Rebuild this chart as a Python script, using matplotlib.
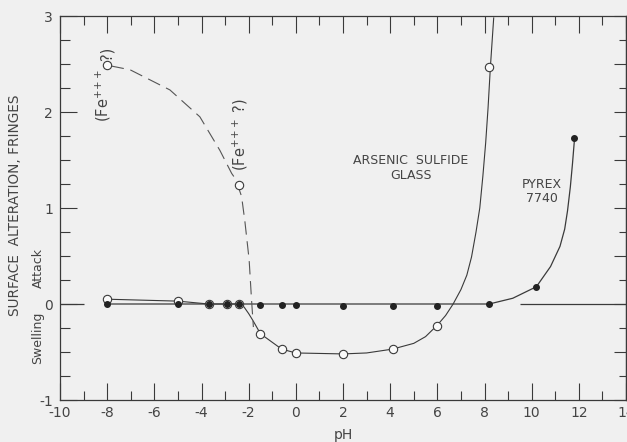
import numpy as np
import matplotlib
matplotlib.use("Agg")
import matplotlib.pyplot as plt
from matplotlib.ticker import MultipleLocator

plt.rcParams['axes.unicode_minus'] = False
plt.rcParams['font.family'] = ['DejaVu Sans']

# Pyrex 7740 (filled points) and its drawn curve
pyrex_ph = [-8, -5, -3.7, -2.9, -2.4, -1.5, -0.6, 0, 2, 4.1, 6, 8.2, 10.2, 11.8]
pyrex_fr = [0.0, 0.0, 0.0, 0.0, 0.0, -0.01, -0.01, -0.01, -0.02, -0.02, -0.02, 0.0, 0.18, 1.73]
pyrex_curve_ph = [-8, 8.2, 9.2, 10.2, 10.8, 11.2, 11.4, 11.52, 11.64, 11.73, 11.82]
pyrex_curve_fr = [0.0, 0.0, 0.06, 0.18, 0.39, 0.60, 0.78, 0.97, 1.22, 1.46, 1.73]

# Arsenic sulfide glass (open points) and its drawn curve
as_ph = [-8, -5, -3.7, -2.9, -2.4, -1.5, -0.6, 0, 2, 4.1, 6, 8.2]
as_fr = [0.05, 0.03, 0.0, 0.0, 0.0, -0.31, -0.47, -0.51, -0.52, -0.47, -0.23, 2.47]
as_curve_ph = [-8, -5, -3.7, -2.9, -2.4, -2.2, -2.0, -1.8, -1.5, -0.6, 0, 2, 3, 4.1,
               5.0, 5.5, 6.0, 6.35, 6.67, 7.0, 7.25, 7.45, 7.64, 7.8, 7.93, 8.05, 8.15,
               8.25, 8.39]
as_curve_fr = [0.05, 0.03, 0.0, 0.0, 0.0, -0.03, -0.1, -0.18, -0.31, -0.47, -0.51, -0.52,
               -0.51, -0.47, -0.41, -0.34, -0.22, -0.12, 0.0, 0.15, 0.30, 0.49, 0.75,
               1.0, 1.33, 1.68, 2.04, 2.47, 2.98]

# Fe+++ points (dashed curve)
fe_ph = [-8, -2.4]
fe_fr = [2.49, 1.24]
fe_curve_ph = [-7.85, -7.03, -5.34, -4.07, -3.22, -2.72, -2.55, -2.3, -2.16, -1.98, -1.88, -1.80]
fe_curve_fr = [2.48, 2.44, 2.23, 1.95, 1.60, 1.36, 1.30, 1.12, 0.86, 0.46, 0.05, -0.24]

# short zero reference segments at the frame edges
zero_segments = [(-10, -9.0), (9.5, 14)]

xticks = list(range(-10, 15, 2))
xtick_labels = ['-10', '-8', '-6', '-4', '-2', '0', '2', '4', '6', '8', '10', '12', '14']
yticks = [-1, 0, 1, 2, 3]
ytick_labels = ['-1', '0', '1', '2', '3']

ink = '#3a3a3a'
grey_text = '#444444'
bg = '#f0f0f0'

fig = plt.figure(figsize=(6.27, 4.42), dpi=100, facecolor=bg)
ax = fig.add_axes([60 / 627, 42 / 442, 566 / 627, 384 / 442], facecolor=bg)

ax.set_xlim(-10, 14)
ax.set_ylim(-1, 3)

for a, b in zero_segments:
    ax.hlines(0, a, b, color=ink, lw=0.9)

ax.plot(pyrex_curve_ph, pyrex_curve_fr, color=ink, lw=0.9, zorder=2)
ax.plot(as_curve_ph, as_curve_fr, color=ink, lw=0.8, zorder=2)
ax.plot(fe_curve_ph, fe_curve_fr, color='#555555', lw=0.8, linestyle=(0, (12, 6)), zorder=2)

ax.plot(as_ph, as_fr, 'o', ms=6, mfc='#fafafa', mec=ink, mew=0.8, zorder=3)
ax.plot(fe_ph, fe_fr, 'o', ms=6, mfc='#fafafa', mec=ink, mew=0.8, zorder=3)
ax.plot(pyrex_ph, pyrex_fr, 'o', ms=4, mfc='#222222', mec='#222222', zorder=4)

# axes frame and ticks
for sp in ax.spines.values():
    sp.set_color(ink)
    sp.set_linewidth(0.9)

ax.set_xticks(xticks)
ax.set_xticklabels(xtick_labels)
ax.set_yticks(yticks)
ax.set_yticklabels(ytick_labels)
ax.xaxis.set_minor_locator(MultipleLocator(1))
ax.yaxis.set_minor_locator(MultipleLocator(0.25))
ax.tick_params(axis='x', which='major', direction='in', length=12, width=0.8,
               color=ink, top=True, labelsize=10, labelcolor=grey_text, pad=4)
ax.tick_params(axis='x', which='minor', direction='in', length=6.5, width=0.8,
               color=ink, top=True)
ax.tick_params(axis='y', which='major', direction='in', length=12, width=0.8,
               color=ink, right=False, labelsize=10, labelcolor=grey_text, pad=5)
ax.tick_params(axis='y', which='minor', direction='in', length=7, width=0.8,
               color=ink, right=False)

right = ax.secondary_yaxis('right')
right.yaxis.set_major_locator(MultipleLocator(0.5))
right.yaxis.set_minor_locator(MultipleLocator(0.25))
right.tick_params(which='major', direction='in', length=8.5, width=0.8, color=ink,
                  labelright=False)
right.tick_params(which='minor', direction='in', length=5, width=0.8, color=ink)
right.spines['right'].set_color(ink)
right.spines['right'].set_linewidth(0.9)

ax.set_xlabel('pH', fontsize=10, color=grey_text, labelpad=6)
fig.text(15 / 627, 1 - 205 / 442, 'SURFACE  ALTERATION, FRINGES', rotation=90,
         ha='center', va='center', fontsize=9.8, color=grey_text)

txt = dict(color=grey_text, fontsize=9)
ax.text(-10.93, -0.35, 'Swelling', rotation=90, ha='center', va='center',
        clip_on=False, **txt)
ax.text(-10.93, 0.37, 'Attack', rotation=90, ha='center', va='center',
        clip_on=False, **txt)

fe_txt = dict(color=grey_text, fontsize=10.5)
fe_label = r'(Fe$^{+\!+\!+}$'
ax.text(-8.16, 2.44, fe_label, rotation=90, ha='center', va='top', **fe_txt)
ax.text(-7.99, 2.54, '?)', rotation=90, ha='center', va='bottom', **fe_txt)
ax.text(-2.37, 1.76, fe_label + ' ?)', rotation=90, ha='center', va='center', **fe_txt)

ax.text(4.87, 1.5, 'ARSENIC  SULFIDE', ha='center', va='center', **txt)
ax.text(4.87, 1.34, 'GLASS', ha='center', va='center', **txt)
ax.text(10.42, 1.25, 'PYREX', ha='center', va='center', **txt)
ax.text(10.42, 1.10, '7740', ha='center', va='center', **txt)

fig.savefig('out.png', dpi=100, facecolor=bg)
